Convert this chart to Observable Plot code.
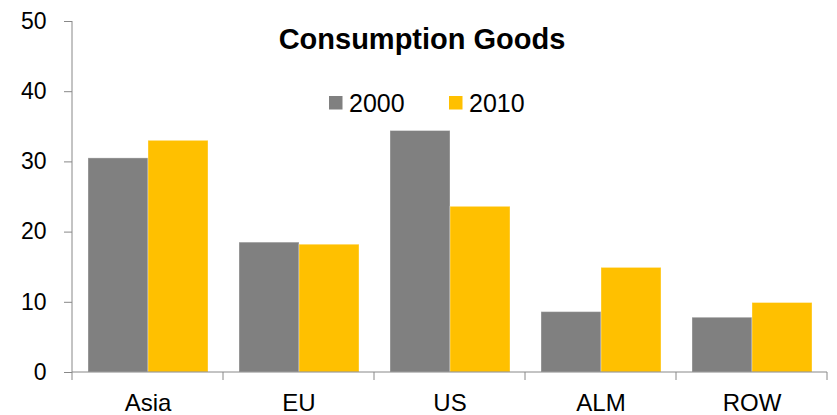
<!DOCTYPE html>
<html>
<head>
<meta charset="utf-8">
<script src="https://cdn.jsdelivr.net/npm/d3@7"></script>
<script src="https://cdn.jsdelivr.net/npm/@observablehq/plot@0.6"></script>
<style>
  html, body { margin: 0; padding: 0; background: white; }
  #chart { position: relative; width: 837px; height: 415px; }
</style>
</head>
<body>
<div id="chart"></div>
<script>
const title = "Consumption Goods";
const categories = ["Asia", "EU", "US", "ALM", "ROW"];
const years = ["2000", "2010"];
const values2000 = [30.5, 18.5, 34.4, 8.6, 7.8];
const values2010 = [33.0, 18.2, 23.6, 14.9, 9.9];
const yTicks = [0, 10, 20, 30, 40, 50];
const colors = ["#808080", "#FFC000"];

const data = categories.flatMap((c, i) => [
  {category: c, year: years[0], value: values2000[i]},
  {category: c, year: years[1], value: values2010[i]}
]);

const axisColor = "#888888";
const font = "'Liberation Sans', Arial, sans-serif";

const chart = Plot.plot({
  width: 837,
  height: 415,
  marginLeft: 70,
  marginRight: 8,
  marginTop: 21,
  marginBottom: 43,
  style: {fontFamily: font, background: "white", color: "black"},
  fx: {domain: categories, padding: 0, label: null, axis: null},
  x: {domain: years, paddingInner: 0, paddingOuter: 0.254, axis: null},
  y: {domain: [0, 50], axis: null},
  color: {domain: years, range: colors},
  marks: [
    Plot.barY(data, {
      fx: "category", x: "year", y: "value", fill: "year",
      stroke: "white", strokeOpacity: 0.35, strokeWidth: 1
    }),
    Plot.axisY({
      ticks: yTicks, tickSize: 8, tickPadding: 18, fontSize: 23,
      stroke: axisColor, fill: "black", label: null, tickFormat: d => String(d)
    }),
    Plot.axisFx({
      anchor: "bottom", tickSize: 0, tickPadding: 21, fontSize: 24, label: null, fill: "black"
    })
  ]
});

document.getElementById("chart").appendChild(chart);

// Axis lines and category separator ticks, positioned from the library's scales
const svg = d3.select(chart);
const fx = chart.scale("fx");
const y = chart.scale("y");
const y0 = y.apply(0);
const yTop = y.apply(50);
const edges = categories.map(c => fx.apply(c)).concat([fx.apply(categories[categories.length - 1]) + fx.bandwidth]);
const g = svg.append("g").attr("stroke", axisColor).attr("stroke-width", 1);
g.append("line").attr("x1", edges[0]).attr("x2", edges[0]).attr("y1", yTop).attr("y2", y0);
g.append("line").attr("x1", edges[0]).attr("x2", edges[edges.length - 1]).attr("y1", y0).attr("y2", y0);
g.selectAll("line.sep").data(edges).join("line")
  .attr("class", "sep")
  .attr("x1", d => d).attr("x2", d => d)
  .attr("y1", y0).attr("y2", y0 + 8);

// Title
svg.append("text")
  .attr("x", 422).attr("y", 49)
  .attr("text-anchor", "middle")
  .attr("font-family", font)
  .attr("font-weight", "bold")
  .attr("font-size", 29)
  .attr("fill", "black")
  .text(title);

// Legend
const legendX = [329, 449];
const lg = svg.append("g").attr("font-family", font).attr("font-size", 25).attr("text-anchor", "start");
years.forEach((yr, i) => {
  lg.append("rect").attr("x", legendX[i]).attr("y", 96).attr("width", 13.5).attr("height", 13.5).attr("fill", colors[i]);
  lg.append("text").attr("x", legendX[i] + 20).attr("y", 111.5).attr("text-anchor", "start").attr("fill", "black").text(yr);
});
</script>
</body>
</html>
